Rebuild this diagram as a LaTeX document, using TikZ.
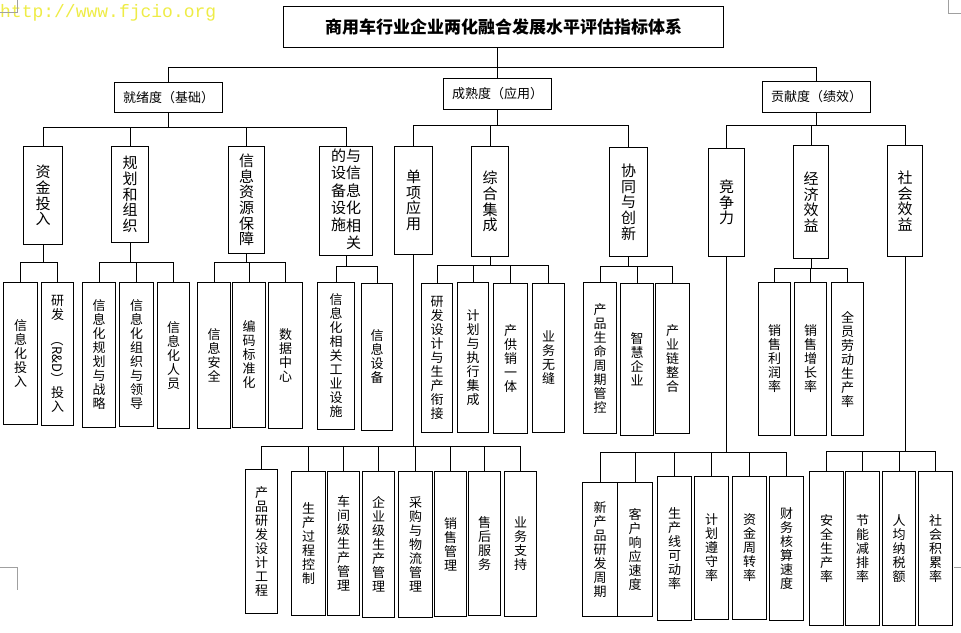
\documentclass[tikz,border=0pt]{standalone}
\usepackage{fontspec, graphicx}
\usepackage{tikz}
\newfontfamily\cjk{Noto Sans CJK SC}
\newfontfamily\wmfont{Liberation Mono}
\definecolor{wmyellow}{RGB}{238,236,70}
\definecolor{markgray}{RGB}{160,160,160}

\tikzset{
    box/.style={draw, line width=1pt, inner sep=0pt, align=center, anchor=north west},
    sz/.style 2 args={minimum width=#1pt, minimum height=#2pt},
    titlebox/.style={box, font=\cjk\bfseries\fontsize{17}{20}\selectfont},
    topbox/.style={box, font=\cjk\fontsize{13}{15}\selectfont},
    midbox/.style={box, font=\cjk\fontsize{15}{15.7}\selectfont},
    leaf/.style={box, font=\cjk\fontsize{13}{14}\selectfont},
    link/.style={line width=1pt}
}

\begin{document}
\begin{tikzpicture}[x=1pt,y=-1pt]

        \useasboundingbox (0,0) rectangle (961,632);

        % watermark and page marks
        \node[anchor=base west, inner sep=0pt, text=wmyellow,
            font=\wmfont\fontsize{18}{18}\selectfont] (wm) at (0,17) {http://www.fjcio.org};
        \draw[markgray] (17,0) -- (17,13) (0,12) -- (17,12);
        \draw[markgray] (948,0) -- (948,13) -- (961,13);
        \draw[markgray] (0,567) -- (17,567) -- (17,590);
        \draw[markgray] (954,567) -- (961,567);

        % title and first level
        \node[titlebox, sz={440}{41}] (title) at (283,6) {商用车行业企业两化融合发展水平评估指标体系};
        \node[topbox, sz={108}{30}] (jxd) at (114,82) {就绪度（基础）};
        \node[topbox, sz={108}{31}] (csd) at (443,78) {成熟度（应用）};
        \node[topbox, sz={108}{31}] (gxd) at (762,81) {贡献度（绩效）};

        % second level
        \node[midbox, sz={39}{98}] (zjtr) at (23,146) {资\\金\\投\\入};
        \node[midbox, sz={37}{96}] (ghzz) at (111,146) {规\\划\\和\\组\\织};
        \node[midbox, sz={36}{107}] (xxzy) at (228,146) {信\\息\\资\\源\\保\\障};
        \node[midbox, sz={53}{109}] (sbss) at (319,146)
            {\begin{tabular}[t]{@{}c@{}}的\\设\\备\\设\\施\end{tabular}%
             \begin{tabular}[t]{@{}c@{}}与\\信\\息\\化\\相\\关\end{tabular}};
        \node[midbox, sz={38}{108}] (dxyy) at (394,146) {单\\项\\应\\用};
        \node[midbox, sz={37}{110}] (zhjc) at (471,146) {综\\合\\集\\成};
        \node[midbox, sz={38}{109}] (xtcx) at (609,147) {协\\同\\与\\创\\新};
        \node[midbox, sz={36}{108}] (jzl) at (708,148) {竞\\争\\力};
        \node[midbox, sz={35}{113}] (jjxy) at (793,145) {经\\济\\效\\益};
        \node[midbox, sz={35}{111}] (shxy) at (887,145) {社\\会\\效\\益};

        % third level
        \node[leaf, sz={34}{142}] (xxhtr) at (3,282) {信\\息\\化\\投\\入};
        \node[leaf, sz={32}{143}] (yftr) at (41,282) {研\\发\\\rotatebox{-90}{（R\&D）}\\投\\入};
        \node[leaf, sz={33}{145}] (ghzl) at (82,282) {信\\息\\化\\规\\划\\与\\战\\略};
        \node[leaf, sz={34}{144}] (zzld) at (119,282) {信\\息\\化\\组\\织\\与\\领\\导};
        \node[leaf, sz={32}{146}] (xxry) at (157,282) {信\\息\\化\\人\\员};
        \node[leaf, sz={33}{146}] (xxaq) at (197,282) {信\\息\\安\\全};
        \node[leaf, sz={33}{145}] (bmbz) at (232,282) {编\\码\\标\\准\\化};
        \node[leaf, sz={34}{146}] (sjzx) at (268,282) {数\\据\\中\\心};
        \node[leaf, sz={37}{147}] (gyss) at (317,282) {信\\息\\化\\相\\关\\工\\业\\设\\施};
        \node[leaf, sz={31}{147}] (xxsb) at (361,283) {信\\息\\设\\备};
        \node[leaf, sz={31}{149}] (yfsc) at (421,283) {研\\发\\设\\计\\与\\生\\产\\衔\\接};
        \node[leaf, sz={31}{150}] (jhzx) at (457,282) {计\\划\\与\\执\\行\\集\\成};
        \node[leaf, sz={34}{150}] (gxyt) at (493,283) {产\\供\\销\\一\\体};
        \node[leaf, sz={32}{149}] (ywwf) at (532,283) {业\\务\\无\\缝};
        \node[leaf, sz={33}{151}] (smzq) at (583,282) {产\\品\\生\\命\\周\\期\\管\\控};
        \node[leaf, sz={33}{152}] (zhqy) at (620,283) {智\\慧\\企\\业};
        \node[leaf, sz={34}{150}] (cylz) at (655,283) {产\\业\\链\\整\\合};
        \node[leaf, sz={32}{153}] (xslr) at (758,282) {销\\售\\利\\润\\率};
        \node[leaf, sz={32}{153}] (xszz) at (794,282) {销\\售\\增\\长\\率};
        \node[leaf, sz={32}{153}] (ldsc) at (831,282) {全\\员\\劳\\动\\生\\产\\率};

        % fourth level
        \node[leaf, sz={32}{144}] (cpyf) at (245,469) {产\\品\\研\\发\\设\\计\\工\\程};
        \node[leaf, sz={34}{144}] (scgc) at (291,471) {生\\产\\过\\程\\控\\制};
        \node[leaf, sz={32}{144}] (cjgl) at (327,471) {车\\间\\级\\生\\产\\管\\理};
        \node[leaf, sz={32}{146}] (qygl) at (362,471) {企\\业\\级\\生\\产\\管\\理};
        \node[leaf, sz={34}{146}] (cgwl) at (398,471) {采\\购\\与\\物\\流\\管\\理};
        \node[leaf, sz={32}{145}] (xsgl) at (434,471) {销\\售\\管\\理};
        \node[leaf, sz={32}{144}] (shfw) at (468,471) {售\\后\\服\\务};
        \node[leaf, sz={32}{145}] (ywzc) at (504,471) {业\\务\\支\\持};
        \node[leaf, sz={35}{134}] (xcpz) at (582,482) {新\\产\\品\\研\\发\\周\\期};
        \node[leaf, sz={35}{134}] (khxy) at (617,482) {客\\户\\响\\应\\速\\度};
        \node[leaf, sz={34}{144}] (scxk) at (657,476) {生\\产\\线\\可\\动\\率};
        \node[leaf, sz={34}{143}] (jhzs) at (694,476) {计\\划\\遵\\守\\率};
        \node[leaf, sz={34}{143}] (zjzz) at (732,476) {资\\金\\周\\转\\率};
        \node[leaf, sz={34}{144}] (cwhs) at (769,476) {财\\务\\核\\算\\速\\度};
        \node[leaf, sz={34}{154}] (aqsc) at (809,471) {安\\全\\生\\产\\率};
        \node[leaf, sz={34}{154}] (jnjp) at (845,471) {节\\能\\减\\排\\率};
        \node[leaf, sz={33}{154}] (rjns) at (882,471) {人\\均\\纳\\税\\额};
        \node[leaf, sz={34}{154}] (shjl) at (918,471) {社\\会\\积\\累\\率};

        % connectors
        \draw[link] (title.south -| csd.north) -- (csd.north);
        \draw[link] (jxd.north) -- (jxd.north |- 0,67) -- (gxd.north |- 0,67) -- (gxd.north);
        \foreach \c in {zjtr,ghzz,xxzy,sbss}
            \draw[link] (jxd.south) -- (jxd.south |- 0,127) -| (\c.north);
        \foreach \c in {dxyy,zhjc,xtcx}
            \draw[link] (csd.south) -- (csd.south |- 0,125) -| (\c.north);
        \foreach \c in {jzl,jjxy,shxy}
            \draw[link] (gxd.south) -- (gxd.south |- 0,125) -| (\c.north);

        \foreach \c in {xxhtr,yftr}
            \draw[link] (zjtr.south) -- (zjtr.south |- 0,262) -| (\c.north);
        \foreach \c in {ghzl,zzld,xxry}
            \draw[link] (ghzz.south) -- (ghzz.south |- 0,262) -| (\c.north);
        \foreach \c in {xxaq,bmbz,sjzx}
            \draw[link] (xxzy.south) -- (xxzy.south |- 0,262) -| (\c.north);
        \foreach \c in {gyss,xxsb}
            \draw[link] (sbss.south) -- (sbss.south |- 0,266) -| (\c.north);
        \foreach \c in {yfsc,jhzx,gxyt,ywwf}
            \draw[link] (zhjc.south) -- (zhjc.south |- 0,265) -| (\c.north);
        \foreach \c in {smzq,zhqy,cylz}
            \draw[link] (xtcx.south) -- (xtcx.south |- 0,266) -| (\c.north);
        \foreach \c in {xslr,xszz,ldsc}
            \draw[link] (jjxy.south) -- (jjxy.south |- 0,268) -| (\c.north);

        \foreach \c in {cpyf,scgc,cjgl,qygl,cgwl,xsgl,shfw,ywzc}
            \draw[link] (dxyy.south) -- (dxyy.south |- 0,446) -| (\c.north);
        \foreach \c in {xcpz,khxy,scxk,jhzs,zjzz,cwhs}
            \draw[link] (jzl.south) -- (jzl.south |- 0,452) -| (\c.north);
        \foreach \c in {aqsc,jnjp,rjns,shjl}
            \draw[link] (shxy.south) -- (shxy.south |- 0,451) -| (\c.north);

    \end{tikzpicture}
\end{document}
